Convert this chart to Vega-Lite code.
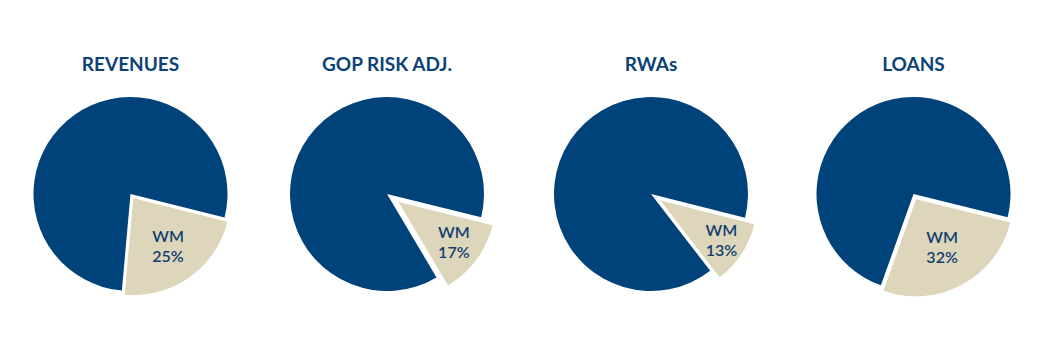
{
  "$schema": "https://vega.github.io/schema/vega-lite/v6.json",
  "padding": {"left": 0, "top": 56, "right": 0, "bottom": 0},
  "background": "white",
  "spacing": 0,
  "data": {"values": [
    {"metric": "REVENUES", "segment": "WM", "value": 22.5, "label": "WM\n25%"},
    {"metric": "REVENUES", "segment": "Other", "value": 77.5, "label": ""},
    {"metric": "GOP RISK ADJ.", "segment": "WM", "value": 12.6, "label": "WM\n17%"},
    {"metric": "GOP RISK ADJ.", "segment": "Other", "value": 87.4, "label": ""},
    {"metric": "RWAs", "segment": "WM", "value": 10.6, "label": "WM\n13%"},
    {"metric": "RWAs", "segment": "Other", "value": 89.4, "label": ""},
    {"metric": "LOANS", "segment": "WM", "value": 26.6, "label": "WM\n32%"},
    {"metric": "LOANS", "segment": "Other", "value": 73.4, "label": ""}
  ]},
  "config": {
    "view": {"stroke": null},
    "title": {"font": "Lato", "fontSize": 19, "fontWeight": "bold", "color": "#0B4377", "offset": 4, "anchor": "middle"},
    "text": {"font": "Lato", "fontSize": 16, "fontWeight": 600, "color": "#123F70", "lineBreak": "\n", "lineHeight": 20, "align": "center", "baseline": "middle", "dy": -10}
  },
  "hconcat": [
    {
      "width": 261, "height": 230,
      "title": "REVENUES",
      "transform": [{"filter": "datum.metric == 'REVENUES'"}],
      "encoding": {
        "theta": {"field": "value", "type": "quantitative", "stack": true, "scale": {"range": [1.817, 8.100]}},
        "order": {"field": "segment", "sort": "descending"},
        "color": {"field": "segment", "type": "nominal", "scale": {"domain": ["WM", "Other"], "range": ["#DDD6BB", "#00427A"]}, "legend": null}
      },
      "layer": [
        {"mark": {"type": "arc", "radius": 97}, "encoding": {"opacity": {"condition": {"test": "datum.segment == 'WM'", "value": 0}, "value": 1}}},
        {"mark": {"type": "arc", "radius": 97, "xOffset": 2.8, "yOffset": 4.2}, "encoding": {"opacity": {"condition": {"test": "datum.segment == 'WM'", "value": 1}, "value": 0}}},
        {"mark": {"type": "text", "radius": 60, "xOffset": 2.8, "yOffset": 4.2, "dy": -10}, "encoding": {"text": {"field": "label"}, "color": {"value": "#123F70"}}}
      ]
    },
    {
      "width": 252, "height": 230,
      "title": "GOP RISK ADJ.",
      "transform": [{"filter": "datum.metric == 'GOP RISK ADJ.'"}],
      "encoding": {
        "theta": {"field": "value", "type": "quantitative", "stack": true, "scale": {"range": [1.814, 8.097]}},
        "order": {"field": "segment", "sort": "descending"},
        "color": {"field": "segment", "type": "nominal", "scale": {"domain": ["WM", "Other"], "range": ["#DDD6BB", "#00427A"]}, "legend": null}
      },
      "layer": [
        {"mark": {"type": "arc", "radius": 97}, "encoding": {"opacity": {"condition": {"test": "datum.segment == 'WM'", "value": 0}, "value": 1}}},
        {"mark": {"type": "arc", "radius": 97, "xOffset": 11.5, "yOffset": 8}, "encoding": {"opacity": {"condition": {"test": "datum.segment == 'WM'", "value": 1}, "value": 0}}},
        {"mark": {"type": "text", "radius": 69, "xOffset": 11.5, "yOffset": 8, "dy": -10}, "encoding": {"text": {"field": "label"}, "color": {"value": "#123F70"}}}
      ]
    },
    {
      "width": 276, "height": 230,
      "title": "RWAs",
      "transform": [{"filter": "datum.metric == 'RWAs'"}],
      "encoding": {
        "theta": {"field": "value", "type": "quantitative", "stack": true, "scale": {"range": [1.819, 8.102]}},
        "order": {"field": "segment", "sort": "descending"},
        "color": {"field": "segment", "type": "nominal", "scale": {"domain": ["WM", "Other"], "range": ["#DDD6BB", "#00427A"]}, "legend": null}
      },
      "layer": [
        {"mark": {"type": "arc", "radius": 97}, "encoding": {"opacity": {"condition": {"test": "datum.segment == 'WM'", "value": 0}, "value": 1}}},
        {"mark": {"type": "arc", "radius": 97, "xOffset": 9.4, "yOffset": 6.5}, "encoding": {"opacity": {"condition": {"test": "datum.segment == 'WM'", "value": 1}, "value": 0}}},
        {"mark": {"type": "text", "radius": 73, "xOffset": 9.4, "yOffset": 6.5, "dy": -10}, "encoding": {"text": {"field": "label"}, "color": {"value": "#123F70"}}}
      ]
    },
    {
      "width": 249, "height": 230,
      "title": "LOANS",
      "transform": [{"filter": "datum.metric == 'LOANS'"}],
      "encoding": {
        "theta": {"field": "value", "type": "quantitative", "stack": true, "scale": {"range": [1.813, 8.096]}},
        "order": {"field": "segment", "sort": "descending"},
        "color": {"field": "segment", "type": "nominal", "scale": {"domain": ["WM", "Other"], "range": ["#DDD6BB", "#00427A"]}, "legend": null}
      },
      "layer": [
        {"mark": {"type": "arc", "radius": 97}, "encoding": {"opacity": {"condition": {"test": "datum.segment == 'WM'", "value": 0}, "value": 1}}},
        {"mark": {"type": "arc", "radius": 97, "xOffset": 2.6, "yOffset": 5.3}, "encoding": {"opacity": {"condition": {"test": "datum.segment == 'WM'", "value": 1}, "value": 0}}},
        {"mark": {"type": "text", "radius": 55, "xOffset": 2.6, "yOffset": 5.3, "dy": -10}, "encoding": {"text": {"field": "label"}, "color": {"value": "#123F70"}}}
      ]
    }
  ]
}
